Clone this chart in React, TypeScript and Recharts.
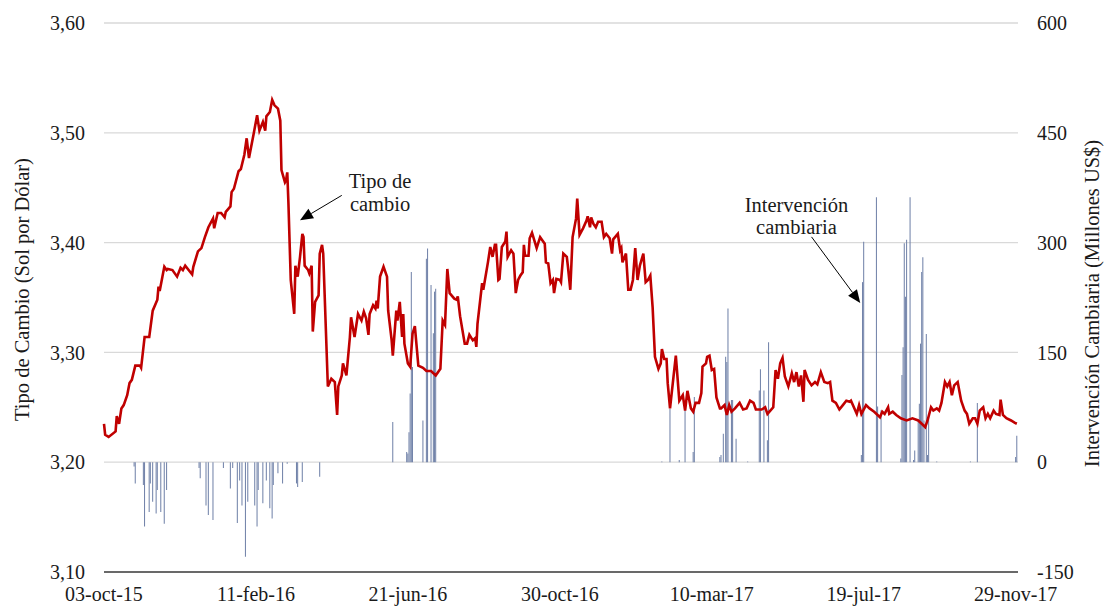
import React from 'react';
import {
  ComposedChart,
  Line,
  Bar,
  XAxis,
  YAxis,
  CartesianGrid,
  ReferenceLine,
  ReferenceDot,
} from 'recharts';

// x values are calendar days counted from 03-oct-15
const tickDays = [0, 131, 262, 393, 524, 655, 786];
const tickLabels = ['03-oct-15', '11-feb-16', '21-jun-16', '30-oct-16', '10-mar-17', '19-jul-17', '29-nov-17'];
const rateTicks = [3.1, 3.2, 3.3, 3.4, 3.5, 3.6];
const interventionTicks = [-150, 0, 150, 300, 450, 600];

// [day, Soles per Dollar]
const exchangeRate: [number, number][] = [
  [0, 3.235], [1, 3.225], [4, 3.223], [10, 3.228], [11, 3.242], [13, 3.235], [15, 3.249], [17, 3.252],
  [20, 3.261], [22, 3.272], [24, 3.275], [27, 3.288], [31, 3.288], [32, 3.286], [35, 3.314], [39, 3.314],
  [42, 3.338], [46, 3.348], [47, 3.36], [48, 3.356], [52, 3.378], [54, 3.375], [55, 3.376], [59, 3.375],
  [63, 3.369], [66, 3.377], [68, 3.375], [70, 3.379], [76, 3.371], [77, 3.378], [81, 3.392], [84, 3.395],
  [87, 3.405], [90, 3.414], [94, 3.422], [95, 3.413], [98, 3.427], [101, 3.427], [104, 3.423], [105, 3.428],
  [109, 3.433], [110, 3.446], [112, 3.449], [116, 3.465], [118, 3.467], [121, 3.48], [123, 3.495], [125, 3.477],
  [129, 3.499], [132, 3.516], [134, 3.502], [137, 3.51], [139, 3.502], [140, 3.515], [143, 3.519], [145, 3.53],
  [147, 3.525], [150, 3.522], [152, 3.511], [153, 3.466], [156, 3.455], [157, 3.457], [158, 3.464], [159, 3.436],
  [161, 3.366], [164, 3.335], [165, 3.379], [167, 3.369], [169, 3.387], [171, 3.408], [172, 3.405], [173, 3.379],
  [176, 3.375], [177, 3.372], [179, 3.379], [180, 3.319], [182, 3.346], [185, 3.352], [186, 3.39], [188, 3.398],
  [189, 3.39], [193, 3.269], [196, 3.276], [199, 3.273], [201, 3.243], [202, 3.269], [205, 3.279], [206, 3.29],
  [209, 3.279], [212, 3.314], [213, 3.332], [216, 3.314], [219, 3.335], [222, 3.329], [224, 3.337], [226, 3.331],
  [228, 3.316], [229, 3.335], [232, 3.343], [234, 3.34], [235, 3.347], [236, 3.34], [238, 3.369], [241, 3.378],
  [244, 3.369], [245, 3.338], [248, 3.311], [249, 3.297], [252, 3.338], [253, 3.329], [255, 3.346], [257, 3.314],
  [258, 3.335], [259, 3.308], [262, 3.29], [264, 3.287], [266, 3.317], [268, 3.324], [271, 3.288], [275, 3.286],
  [278, 3.283], [282, 3.283], [286, 3.279], [290, 3.285], [292, 3.329], [294, 3.325], [296, 3.376], [298, 3.354],
  [302, 3.349], [304, 3.348], [305, 3.351], [307, 3.333], [311, 3.308], [313, 3.308], [315, 3.316], [318, 3.311],
  [320, 3.313], [321, 3.305], [322, 3.326], [326, 3.363], [327, 3.357], [331, 3.382], [333, 3.396], [335, 3.387],
  [337, 3.398], [338, 3.398], [340, 3.366], [341, 3.367], [343, 3.396], [346, 3.401], [347, 3.41], [348, 3.387],
  [351, 3.393], [353, 3.39], [355, 3.354], [357, 3.366], [359, 3.37], [361, 3.373], [362, 3.398], [363, 3.388],
  [366, 3.388], [367, 3.404], [369, 3.409], [371, 3.402], [373, 3.395], [376, 3.405], [378, 3.402], [380, 3.399],
  [381, 3.382], [383, 3.381], [385, 3.363], [387, 3.366], [388, 3.354], [390, 3.367], [393, 3.366], [394, 3.364],
  [396, 3.39], [399, 3.387], [400, 3.378], [402, 3.357], [404, 3.405], [407, 3.422], [408, 3.44], [410, 3.407],
  [413, 3.413], [416, 3.42], [417, 3.424], [419, 3.414], [420, 3.423], [422, 3.417], [424, 3.414], [426, 3.419],
  [429, 3.419], [431, 3.405], [433, 3.408], [436, 3.404], [438, 3.39], [439, 3.403], [443, 3.408], [445, 3.393],
  [446, 3.395], [447, 3.382], [450, 3.39], [452, 3.357], [454, 3.357], [456, 3.366], [458, 3.395], [460, 3.366],
  [462, 3.379], [465, 3.39], [467, 3.364], [469, 3.366], [471, 3.37], [473, 3.341], [475, 3.296], [478, 3.285],
  [480, 3.29], [481, 3.303], [483, 3.294], [485, 3.294], [486, 3.272], [488, 3.249], [491, 3.278], [493, 3.297],
  [496, 3.256], [499, 3.261], [501, 3.247], [503, 3.265], [506, 3.249], [508, 3.246], [510, 3.254], [513, 3.254],
  [515, 3.263], [516, 3.287], [519, 3.29], [520, 3.296], [522, 3.297], [524, 3.284], [526, 3.285], [528, 3.259],
  [531, 3.249], [532, 3.249], [535, 3.252], [537, 3.243], [539, 3.252], [541, 3.246], [544, 3.249], [548, 3.254],
  [551, 3.248], [554, 3.249], [557, 3.256], [560, 3.254], [562, 3.248], [567, 3.248], [570, 3.25], [572, 3.244],
  [577, 3.25], [579, 3.284], [581, 3.276], [583, 3.29], [585, 3.295], [587, 3.278], [590, 3.269], [593, 3.281],
  [595, 3.273], [597, 3.282], [599, 3.269], [601, 3.279], [603, 3.255], [604, 3.284], [607, 3.275], [610, 3.27],
  [613, 3.273], [615, 3.271], [618, 3.282], [621, 3.273], [624, 3.272], [626, 3.273], [628, 3.256], [631, 3.254],
  [634, 3.248], [637, 3.252], [640, 3.256], [643, 3.255], [644, 3.256], [649, 3.244], [651, 3.252], [653, 3.244],
  [657, 3.252], [660, 3.249], [664, 3.246], [669, 3.241], [671, 3.246], [673, 3.244], [676, 3.25], [677, 3.244],
  [680, 3.246], [683, 3.243], [687, 3.24], [692, 3.238], [697, 3.24], [702, 3.238], [705, 3.235], [708, 3.232],
  [710, 3.238], [713, 3.25], [715, 3.247], [718, 3.249], [720, 3.247], [722, 3.254], [725, 3.273], [727, 3.269],
  [729, 3.273], [731, 3.261], [733, 3.27], [736, 3.273], [739, 3.256], [742, 3.247], [744, 3.244], [746, 3.235],
  [749, 3.24], [751, 3.24], [753, 3.235], [755, 3.247], [758, 3.25], [760, 3.24], [762, 3.244], [764, 3.24],
  [767, 3.247], [769, 3.244], [772, 3.243], [773, 3.257], [775, 3.243], [778, 3.24], [782, 3.238], [785, 3.236],
  [787, 3.235],
];

// [day, millones US$]
const intervention: [number, number][] = [
  [26, -6], [27, -29], [34, -31], [35, -88], [39, -68], [40, -29], [42, -54], [45, -70], [46, -38], [49, -68],
  [52, -84], [54, -38], [82, -8], [83, -22], [88, -59], [90, -72], [94, -79], [103, -8], [109, -36], [111, -8],
  [115, -83], [117, -25], [119, -59], [122, -129], [124, -54], [130, -59], [132, -88], [133, -38], [137, -56],
  [140, -25], [143, -63], [145, -77], [146, -31], [150, -15], [154, -29], [158, -2], [166, -29], [167, -34],
  [171, -27], [186, -20],
  [249, 55], [261, 14], [262, 12], [263, 41], [264, 94], [265, 260], [266, 130], [275, 57], [278, 278], [279, 292],
  [282, 242], [284, 176], [285, 233], [286, 237],
  [481, 1], [488, 73], [496, 3], [501, 73], [508, 14], [509, 89], [531, 7], [532, 10], [534, 39], [536, 144],
  [537, 137], [538, 210], [541, 85], [542, 85], [545, 32], [555, 1], [565, 98], [566, 127], [569, 98], [572, 30],
  [573, 164],
  [653, 10], [654, 246], [655, 301], [666, 362], [667, 76], [670, 71], [687, 5], [688, 119], [689, 157], [690, 299],
  [691, 226], [692, 304], [695, 362], [698, 3], [699, 16], [702, 57], [703, 80], [704, 162], [705, 260], [706, 280],
  [707, 57], [709, 175], [710, 10], [711, 66], [718, 1], [747, 1], [753, 81], [786, 7], [787, 36],
];

type Row = { day: number; rate?: number; intervention?: number };

function buildRows(): Row[] {
  const map = new Map<number, Row>();
  exchangeRate.forEach(([d, v]) => {
    const r = map.get(d) || { day: d };
    r.rate = v;
    map.set(d, r);
  });
  intervention.forEach(([d, v]) => {
    const r = map.get(d) || { day: d };
    r.intervention = v;
    map.set(d, r);
  });
  return Array.from(map.values()).sort((a, b) => a.day - b.day);
}

const rows = buildRows();

const SERIF = '"Liberation Serif", "Times New Roman", serif';
const TEXT = '#1a1a1a';

function AxisTitle(props: any) {
  const { viewBox, text, dx, dy } = props;
  const cx = viewBox.x + dx;
  const cy = viewBox.y + viewBox.height / 2 + dy;
  return (
    <text
      x={cx}
      y={cy}
      transform={`rotate(-90, ${cx}, ${cy})`}
      textAnchor="middle"
      dominantBaseline="central"
      fontFamily={SERIF}
      fontSize={20.5}
      fill={TEXT}
    >
      {text}
    </text>
  );
}

function makeNote(lines: string[], gap: number) {
  return (p: any) => (
    <text x={p.cx} y={p.cy} textAnchor="middle" fontFamily={SERIF} fontSize={20.5} fill={TEXT}>
      {lines.map((l, i) => (
        <tspan key={i} x={p.cx} y={p.cy + (i - (lines.length - 1) / 2) * gap} dominantBaseline="central">
          {l}
        </tspan>
      ))}
    </text>
  );
}

function arrowShape(p: any) {
  const { x1, y1, x2, y2 } = p;
  const ang = Math.atan2(y2 - y1, x2 - x1);
  const len = 13;
  const half = 5.5;
  const bx = x2 - len * Math.cos(ang);
  const by = y2 - len * Math.sin(ang);
  const nx = -Math.sin(ang) * half;
  const ny = Math.cos(ang) * half;
  return (
    <g>
      <line x1={x1} y1={y1} x2={bx} y2={by} stroke="#000" strokeWidth={1} />
      <polygon points={`${x2},${y2} ${bx + nx},${by + ny} ${bx - nx},${by - ny}`} fill="#000" />
    </g>
  );
}

const tickStyle = { fill: TEXT, fontSize: 20, fontFamily: SERIF };

export default function App() {
  return (
    <div style={{ position: 'absolute', left: 0, top: 0, width: 1107, height: 606 }}>
      <ComposedChart
        width={1107}
        height={606}
        data={rows}
        margin={{ top: 23, right: 0, bottom: 0, left: 0 }}
      >
        <CartesianGrid vertical={false} stroke="#D9D9D9" strokeWidth={1.3} />
        <XAxis
          dataKey="day"
          type="number"
          domain={[0, 788]}
          ticks={tickDays}
          interval={0}
          tickFormatter={(v: number) => tickLabels[tickDays.indexOf(v)] ?? ''}
          height={34}
          axisLine={{ stroke: '#404040', strokeWidth: 1.3 }}
          tickLine={false}
          tickSize={0}
          tickMargin={15}
          tick={tickStyle}
        />
        <YAxis
          type="number"
          domain={[3.1, 3.6]}
          ticks={rateTicks}
          interval={0}
          width={104}
          axisLine={false}
          tickLine={false}
          tickSize={0}
          tickMargin={19}
          tickFormatter={(v: number) => v.toFixed(2).replace('.', ',')}
          tick={tickStyle}
          label={<AxisTitle text="Tipo de Cambio (Sol por Dólar)" dx={22} dy={-8} />}
        />
        <YAxis
          yAxisId="right"
          orientation="right"
          type="number"
          domain={[-150, 600]}
          ticks={interventionTicks}
          interval={0}
          width={89}
          axisLine={false}
          tickLine={false}
          tickSize={0}
          tickMargin={19}
          tick={tickStyle}
          label={<AxisTitle text="Intervención Cambiaria (Millones US$)" dx={74} dy={6} />}
        />
        <Bar
          yAxisId="right"
          dataKey="intervention"
          fill="#7384AA"
          barSize={1.6}
          isAnimationActive={false}
        />
        <Line
          dataKey="rate"
          type="linear"
          stroke="#C00000"
          strokeWidth={2.6}
          dot={false}
          connectNulls
          isAnimationActive={false}
        />
        <ReferenceLine segment={[{ x: 205, y: 3.443 }, { x: 169, y: 3.4204 }]} shape={arrowShape} />
        <ReferenceLine segment={[{ x: 610, y: 3.4052 }, { x: 652, y: 3.345 }]} shape={arrowShape} />
        <ReferenceDot x={238} y={3.4455} r={0} shape={makeNote(['Tipo de', 'cambio'], 23)} />
        <ReferenceDot x={597} y={3.424} r={0} shape={makeNote(['Intervención', 'cambiaria'], 22)} />
      </ComposedChart>
    </div>
  );
}
